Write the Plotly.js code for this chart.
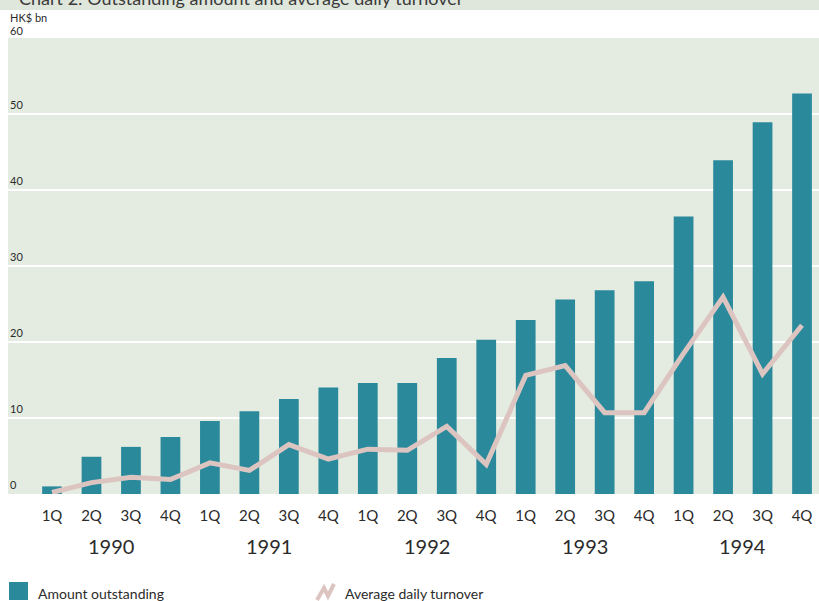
<!DOCTYPE html>
<html>
<head>
<meta charset="utf-8">
<script src="https://cdn.plot.ly/plotly-3.0.1.min.js"></script>
<style>
  html, body { margin: 0; padding: 0; background: #ffffff; }
  #chart { width: 819px; height: 601px; }
</style>
</head>
<body>
<div id="chart"></div>
<script>
// ---- Data ----
const quarterLabels = ["1Q","2Q","3Q","4Q","1Q","2Q","3Q","4Q","1Q","2Q","3Q","4Q","1Q","2Q","3Q","4Q","1Q","2Q","3Q","4Q"];
const years = ["1990","1991","1992","1993","1994"];
const yTickLabels = ["0","10","20","30","40","50","60"];
const yTickValues = [0,10,20,30,40,50,60];
const amountOutstanding = [1.0,4.9,6.2,7.5,9.6,10.9,12.5,14.0,14.6,14.6,17.9,20.3,22.9,25.6,26.8,28.0,36.5,43.9,48.9,52.7];
const avgDailyTurnover = [0.2,1.5,2.2,1.9,4.1,3.1,6.5,4.6,5.9,5.75,8.9,3.9,15.6,16.9,10.7,10.7,18.5,25.9,15.8,22.2];

const idx = quarterLabels.map((_, i) => i);

// ---- Styling / layout helpers ----
const W = 819, H = 601;
const M = {l: 8, r: 0, t: 38, b: 107};
const plotW = W - M.l - M.r, plotH = H - M.t - M.b;
const px = x => (x - M.l) / plotW;           // pixel x -> paper x
const py = y => (H - M.b - y) / plotH;       // pixel y -> paper y

const barColor = '#2a8a9c';
const lineColor = '#dcc5c0';
const textColor = '#2b2b2b';
const font = 'Lato, "Open Sans", sans-serif';

const traces = [
  {
    type: 'bar', x: idx, y: amountOutstanding, width: 0.5,
    marker: {color: barColor, line: {width: 0}},
    name: 'Amount outstanding', showlegend: false, hoverinfo: 'y'
  },
  {
    type: 'scatter', mode: 'lines', x: idx, y: avgDailyTurnover,
    line: {color: lineColor, width: 5},
    name: 'Average daily turnover', showlegend: false, hoverinfo: 'y'
  }
];

const annotations = [];
// y tick labels above grid lines
yTickValues.forEach((v, i) => {
  annotations.push({
    xref: 'paper', yref: 'y', x: px(9), y: v, xanchor: 'left', yanchor: 'bottom',
    text: yTickLabels[i], showarrow: false, borderpad: 0, yshift: (v === 60 ? 0 : 2),
    font: {family: font, size: 11, color: textColor}
  });
});
annotations.push({
  xref: 'paper', yref: 'paper', x: px(9), y: py(17), xanchor: 'left', yanchor: 'middle',
  text: 'HK$ bn', showarrow: false, borderpad: 0, font: {family: font, size: 11, color: textColor}
});
// year labels
years.forEach((yr, i) => {
  annotations.push({
    xref: 'x', yref: 'paper', x: 1.5 + 4 * i, y: py(546), xanchor: 'center', yanchor: 'middle',
    text: yr, showarrow: false, font: {family: font, size: 20, color: textColor}
  });
});
// top cut-off title (cropped in the reference scan)
annotations.push({
  xref: 'paper', yref: 'paper', x: px(18), y: py(-2), xanchor: 'left', yanchor: 'middle',
  text: 'Chart 2: Outstanding amount and average daily turnover', showarrow: false, borderpad: 0,
  font: {family: font, size: 18, color: '#3a3a3a'}
});
// legend texts
annotations.push({
  xref: 'paper', yref: 'paper', x: px(36), y: py(593), xanchor: 'left', yanchor: 'middle',
  text: 'Amount outstanding', showarrow: false, font: {family: font, size: 14, color: textColor}
});
annotations.push({
  xref: 'paper', yref: 'paper', x: px(343), y: py(593), xanchor: 'left', yanchor: 'middle',
  text: 'Average daily turnover', showarrow: false, font: {family: font, size: 14, color: textColor}
});

const shapes = [
  // top title band
  {type: 'rect', xref: 'paper', yref: 'paper', x0: px(0), x1: px(819), y0: py(10), y1: py(0),
   fillcolor: '#dfe6dc', line: {width: 0}, layer: 'below'},
  // legend swatch: bars
  {type: 'rect', xref: 'paper', yref: 'paper', x0: px(9), x1: px(28), y0: py(600), y1: py(582),
   fillcolor: barColor, line: {width: 0}},
  // legend swatch: line
  {type: 'path', xref: 'paper', yref: 'paper',
   path: `M ${px(317)} ${py(600)} L ${px(324)} ${py(588)} L ${px(328)} ${py(596)} L ${px(334)} ${py(584)}`,
   line: {color: lineColor, width: 4}}
];

const layout = {
  width: W, height: H,
  margin: M,
  paper_bgcolor: '#ffffff',
  plot_bgcolor: '#e4ebe1',
  showlegend: false,
  xaxis: {
    range: [-1.115, 19.43], tickvals: idx, ticktext: quarterLabels,
    showgrid: false, zeroline: false, showline: false, ticks: '',
    ticklabelstandoff: 11,
    tickfont: {family: font, size: 15, color: textColor}
  },
  yaxis: {
    range: [0, 60], tickvals: [10, 20, 30, 40, 50], showticklabels: false,
    showgrid: true, gridcolor: '#ffffff', gridwidth: 2.5,
    zeroline: false, showline: false, ticks: ''
  },
  annotations: annotations,
  shapes: shapes
};

Plotly.newPlot('chart', traces, layout, {displayModeBar: false, staticPlot: true});
</script>
</body>
</html>
